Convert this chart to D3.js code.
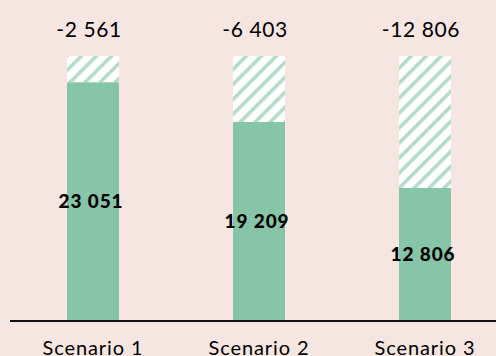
<!DOCTYPE html>
<html><head><meta charset="utf-8">
<script src="https://cdn.jsdelivr.net/npm/d3@7"></script>
<style>
html,body{margin:0;padding:0;background:#f5e6e2;}
svg{display:block;}
</style></head>
<body>
<svg id="chart" width="496" height="356"></svg>
<script>
const categories = ["Scenario 1", "Scenario 2", "Scenario 3"];
const remaining = [23051, 19209, 12806];
const reductions = [-2561, -6403, -12806];

const W = 496, H = 356;
const svg = d3.select("#chart");
svg.append("rect").attr("width", W).attr("height", H).attr("fill", "#f5e6e2");

const fontFam = "'Century Gothic','URW Gothic','Lato','Open Sans',sans-serif";
const loc = d3.formatLocale({decimal: ",", thousands: " ", grouping: [3], currency: ["", ""], minus: "-"});
const fmt = loc.format(",d");

const x = d3.scaleBand().domain(categories).range([10, 508]).paddingInner(0.687).paddingOuter(0.3435);
const total = remaining[0] - reductions[0];
const y = d3.scaleLinear().domain([0, total]).range([320, 56]);

const defs = svg.append("defs");
const pat = defs.append("pattern").attr("id", "hatch").attr("patternUnits", "userSpaceOnUse")
  .attr("width", 10.6).attr("height", 10.6).attr("patternTransform", "rotate(45)");
pat.append("rect").attr("width", 10.6).attr("height", 10.6).attr("fill", "#ffffff");
pat.append("rect").attr("width", 3.6).attr("height", 10.6).attr("fill", "#b3dcc7");

const data = categories.map((c, i) => ({c, keep: remaining[i], red: reductions[i]}));

// hatched reduction part
svg.selectAll("rect.red").data(data).join("rect").attr("class", "red")
  .attr("x", d => x(d.c)).attr("width", x.bandwidth())
  .attr("y", d => y(d.keep - d.red)).attr("height", d => y(d.keep) - y(d.keep - d.red))
  .attr("fill", "url(#hatch)");

// solid part
svg.selectAll("rect.keep").data(data).join("rect").attr("class", "keep")
  .attr("x", d => x(d.c)).attr("width", x.bandwidth())
  .attr("y", d => y(d.keep)).attr("height", d => y(0) - y(d.keep))
  .attr("fill", "#86c5a8");

// value labels
svg.selectAll("text.val").data(data).join("text").attr("class", "val")
  .attr("x", d => x(d.c) + x.bandwidth() / 2 - 2)
  .attr("y", d => (y(d.keep) + y(0)) / 2)
  .attr("dy", "0.35em").attr("text-anchor", "middle")
  .attr("font-family", fontFam).attr("font-weight", 900).attr("font-size", 19)
  .attr("letter-spacing", 0.9)
  .attr("fill", "#000").text(d => fmt(d.keep));

// top labels
svg.selectAll("text.top").data(data).join("text").attr("class", "top")
  .attr("x", d => x(d.c) + x.bandwidth() / 2 - 4)
  .attr("y", 37).attr("text-anchor", "middle")
  .attr("font-family", fontFam).attr("font-size", 21).attr("letter-spacing", 0.6)
  .attr("fill", "#000").text(d => fmt(d.red));

// axis
const axis = svg.append("g").attr("transform", "translate(0,321)")
  .call(d3.axisBottom(x).tickSize(0).tickPadding(20));
axis.select(".domain").attr("d", "M10,0H496").attr("stroke", "#111").attr("stroke-width", 2);
axis.selectAll("text").attr("font-family", fontFam).attr("font-size", 20)
  .attr("letter-spacing", 0.9).attr("fill", "#000");
</script>
</body></html>
